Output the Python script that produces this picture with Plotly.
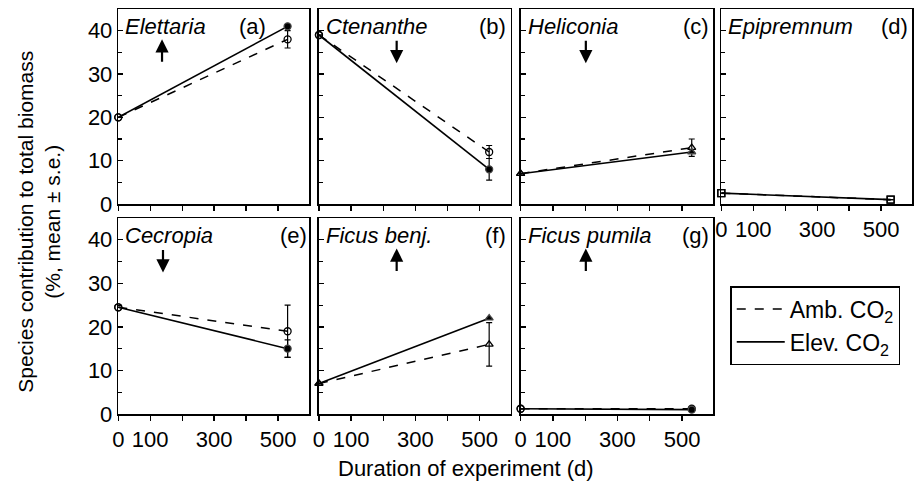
import plotly.graph_objects as go

# ---------------- data ----------------
days = [0, 530]
species = ["Elettaria", "Ctenanthe", "Heliconia", "Epipremnum", "Cecropia", "Ficus benj.", "Ficus pumila"]
panel_labels = ["(a)", "(b)", "(c)", "(d)", "(e)", "(f)", "(g)"]
amb_values = [[20, 38], [39, 12], [7, 13], [2.5, 1.0], [24.5, 19], [7, 16], [1.2, 1.2]]
elev_values = [[20, 41], [39, 8], [7, 12], [2.5, 1.0], [24.5, 15], [7, 22], [1.2, 1.0]]
amb_err = [[0, 2], [0, 1.5], [0, 2], [0, 0], [0, 6], [0, 5], [0, 0]]
elev_err = [[0, 0], [0, 2.5], [0, 0], [0, 0], [0, 2], [0, 0], [0, 0]]
symbols = ["circle", "circle", "triangle-up", "square", "circle", "triangle-up", "circle"]
arrow_dir = ["up", "down", "down", None, "down", "up", "up"]
arrow_day = [137, 242, 202, None, 140, 242, 202]
x_tickvals = [0, 100, 200, 300, 400, 500]
x_ticktext = ["0", "100", "", "300", "", "500"]
y_tickvals = [0, 10, 20, 30, 40]

# ---------------- layout geometry (pixels of the 921x485 reference) ----------------
W, H = 921, 485
PAGE_H = 498  # page height that maps onto the 485-px photograph
col_px = [(113, 305), (315, 508), (518, 712), (720, 912)]
row_px = [(9, 204), (218, 414)]
label_right_px = [264, 505, 710, 910, 305, 505, 710]


def xd(a, b):
    return [a / W, b / W]


def yd(top, bot):
    return [1 - bot / H, 1 - top / H]


FONT = "Liberation Sans, Arial, Helvetica, sans-serif"
fig = go.Figure()
layout = dict(
    width=W, height=PAGE_H, margin=dict(l=0, r=0, t=0, b=0),
    plot_bgcolor="white", paper_bgcolor="white",
    font=dict(family=FONT, size=21, color="black"),
    showlegend=True,
)
annotations = []

for i in range(7):
    r, c = divmod(i, 4)
    ax = "" if i == 0 else str(i + 1)
    xa, ya = "x" + ax, "y" + ax
    open_sym = symbols[i] + "-open"
    # ambient CO2
    fig.add_trace(go.Scatter(
        x=days, y=amb_values[i], xaxis=xa, yaxis=ya, mode="lines+markers",
        line=dict(color="black", width=1.5, dash="dash"),
        marker=dict(symbol=[open_sym, open_sym], size=7, color="black", line=dict(width=1.3)),
        error_y=dict(type="data", array=amb_err[i], visible=True, color="black", thickness=1.2, width=3),
        showlegend=False, cliponaxis=False))
    # elevated CO2
    end_sym = open_sym if i == 3 else symbols[i]
    fig.add_trace(go.Scatter(
        x=days, y=elev_values[i], xaxis=xa, yaxis=ya, mode="lines+markers",
        line=dict(color="black", width=1.6),
        marker=dict(symbol=[open_sym, end_sym], size=7, color="black", line=dict(width=1.3)),
        error_y=dict(type="data", array=elev_err[i], visible=True, color="black", thickness=1.2, width=3),
        showlegend=False, cliponaxis=False))

    show_x_labels = (r == 1) or (i == 3)
    layout["xaxis" + ax] = dict(
        domain=xd(*col_px[c]), anchor=ya, range=[0, 597],
        tickvals=x_tickvals, ticktext=x_ticktext if show_x_labels else [""] * 6,
        ticks="outside", ticklen=5, tickwidth=1.3, tickcolor="black",
        showline=True, linecolor="black", linewidth=1.5, mirror=True,
        showgrid=False, zeroline=False, tickfont=dict(size=22), fixedrange=True)
    layout["yaxis" + ax] = dict(
        domain=yd(*row_px[r]), anchor=xa, range=[0, 45],
        tickvals=y_tickvals, showticklabels=(c == 0),
        ticks="inside", ticklen=5, tickwidth=1.3, tickcolor="black",
        minor=dict(ticks="inside", dtick=5, ticklen=4, tickcolor="black", tickwidth=1.2),
        showline=True, linecolor="black", linewidth=1.5, mirror=True,
        showgrid=False, zeroline=False, tickfont=dict(size=22), fixedrange=True)

    # species name
    annotations.append(dict(
        xref=xa + " domain", yref=ya + " domain", x=0.0, y=0.985, xshift=5,
        xanchor="left", yanchor="top", showarrow=False,
        text="<i>" + species[i] + "</i>", font=dict(size=22)))
    # panel label
    annotations.append(dict(
        xref="paper", yref=ya + " domain", x=label_right_px[i] / W, y=0.985,
        xanchor="right", yanchor="top", showarrow=False,
        text=panel_labels[i], font=dict(size=22)))
    # response arrows
    if arrow_dir[i] is not None:
        if arrow_dir[i] == "up":
            y0, y1 = 32.5, 38.0
        else:
            y0, y1 = 38.0, 32.5
        annotations.append(dict(
            xref=xa, yref=ya, axref=xa, ayref=ya,
            x=arrow_day[i], y=y1, ax=arrow_day[i], ay=y0,
            showarrow=True, arrowhead=2, arrowsize=1.2, arrowwidth=2.2,
            arrowcolor="black", text=""))

# legend-only traces
fig.add_trace(go.Scatter(x=[None], y=[None], mode="lines", name="Amb. CO<sub>2</sub>",
                         line=dict(color="black", width=1.5, dash="dash")))
fig.add_trace(go.Scatter(x=[None], y=[None], mode="lines", name="Elev. CO<sub>2</sub>",
                         line=dict(color="black", width=1.6)))

layout["legend"] = dict(
    x=729 / W, y=1 - 286 / H, xanchor="left", yanchor="top",
    bordercolor="black", borderwidth=1.5, bgcolor="white",
    font=dict(size=23), itemwidth=48, tracegroupgap=2)

# axis titles
annotations.append(dict(
    xref="paper", yref="paper", x=33 / W, y=1 - 222 / H, xanchor="center", yanchor="middle",
    showarrow=False, textangle=-90,
    text="Species contribution to total biomass<br>(%, mean ± s.e.)", font=dict(size=21)))
annotations.append(dict(
    xref="paper", yref="paper", x=463 / W, y=1 - 468 / H, xanchor="center", yanchor="middle",
    showarrow=False, text="Duration of experiment (d)", font=dict(size=22)))

layout["annotations"] = annotations
fig.update_layout(**layout)

page_css = (
    "var de=document.documentElement, b=document.body;"
    "de.style.margin='0';de.style.padding='0';de.style.overflow='hidden';"
    "b.style.margin='0';b.style.padding='0';b.style.overflow='hidden';"
)
fig.write_html("out.html", config={"displayModeBar": False, "staticPlot": True},
               post_script=page_css)
